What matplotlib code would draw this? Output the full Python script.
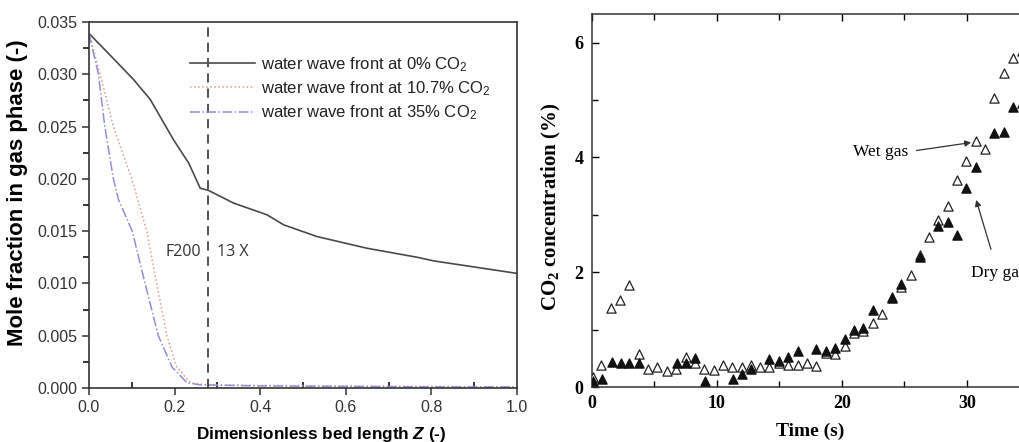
import numpy as np
import matplotlib
matplotlib.use("Agg")
import matplotlib.pyplot as plt
from matplotlib.ticker import MultipleLocator

plt.rcParams["mathtext.fontset"] = "custom"
plt.rcParams["mathtext.rm"] = "Liberation Sans:bold"
plt.rcParams["mathtext.bf"] = "Liberation Sans:bold"
plt.rcParams["mathtext.it"] = "Liberation Sans:italic:bold"

# ---- left panel: mole fraction along the bed ----
z_0 = [0.0, 0.05, 0.104, 0.143, 0.198, 0.233, 0.26, 0.279, 0.338, 0.416,
       0.455, 0.533, 0.65, 0.767, 0.806, 1.0]
y_0 = [0.0339, 0.0318, 0.0295, 0.0276, 0.0237, 0.0215, 0.0191, 0.0189, 0.01768,
       0.01656, 0.0156, 0.01448, 0.01336, 0.0125, 0.01215, 0.01096]

z_107 = [0.0, 0.026, 0.057, 0.1, 0.135, 0.158, 0.182, 0.205, 0.237, 0.276,
         0.4, 0.6, 0.8, 1.0]
y_107 = [0.0339, 0.030, 0.025, 0.020, 0.015, 0.010, 0.005, 0.002, 0.0005,
         0.0003, 0.00025, 0.0002, 0.00015, 0.0001]

z_35 = [0.0, 0.022, 0.037, 0.057, 0.069, 0.101, 0.131, 0.162, 0.194, 0.229,
        0.26, 0.4, 0.6, 0.8, 1.0]
y_35 = [0.0339, 0.030, 0.025, 0.020, 0.018, 0.015, 0.010, 0.005, 0.002, 0.0005,
        0.0003, 0.0002, 0.00015, 0.0001, 0.0001]

legend_labels = ["water wave front at 0% CO$\\mathregular{_2}$",
                 "water wave front at 10.7% CO$\\mathregular{_2}$",
                 "water wave front at 35% CO$\\mathregular{_2}$"]
z_boundary = 0.279

# ---- right panel: CO2 concentration vs time ----
t_wet = [0.08, 0.75, 1.49, 2.27, 3.0, 3.76, 4.48, 5.2, 6.0, 6.75, 7.5, 8.24,
         8.96, 9.73, 10.48, 11.23, 11.97, 12.72, 13.47, 14.2, 14.96, 15.7,
         16.48, 17.23, 17.97, 18.72, 19.47, 20.25, 21.0, 21.73, 22.48, 23.25,
         24.0, 24.77, 25.5, 26.23, 26.98, 27.72, 28.47, 29.2, 29.96, 30.7,
         31.48, 32.2, 32.94, 33.69, 34.4]
c_wet = [0.17, 0.39, 1.38, 1.51, 1.77, 0.57, 0.31, 0.34, 0.28, 0.32, 0.53, 0.42,
         0.31, 0.29, 0.38, 0.35, 0.34, 0.38, 0.35, 0.34, 0.41, 0.39,
         0.38, 0.42, 0.36, 0.59, 0.57, 0.71, 0.94, 0.97, 1.11, 1.28,
         1.57, 1.75, 1.96, 2.30, 2.61, 2.91, 3.16, 3.60, 3.94, 4.28,
         4.14, 5.03, 5.47, 5.74, 5.85]

t_dry = [0.1, 0.8, 1.57, 2.3, 3.0, 3.77, 6.77, 7.5, 8.25, 9.04, 11.3, 12.0,
         12.72, 14.2, 14.96, 15.7, 16.48, 17.97, 18.72, 19.47, 20.25, 21.0,
         21.73, 22.48, 24.0, 24.77, 26.23, 27.72, 28.47, 29.2, 29.96, 30.7,
         32.2, 32.94, 33.69, 34.4]
c_dry = [0.1, 0.14, 0.44, 0.42, 0.42, 0.42, 0.42, 0.41, 0.51, 0.11, 0.14, 0.22,
         0.31, 0.49, 0.46, 0.52, 0.62, 0.67, 0.62, 0.68, 0.84, 1.0,
         1.03, 1.34, 1.55, 1.79, 2.26, 2.81, 2.87, 2.65, 3.46, 3.83,
         4.42, 4.45, 4.88, 4.95]

W, H = 1020, 442
fig = plt.figure(figsize=(W / 100, H / 100), dpi=100)
fig.patch.set_facecolor("white")

# left axes
sans = ["Liberation Sans", "DejaVu Sans"]
ax1 = fig.add_axes([89 / W, 54 / H, 428 / W, 366 / H])
ax1.plot(z_0, y_0, color="#4a4a4a", lw=1.2, label=legend_labels[0])
ax1.plot(z_107, y_107, color="#e89a8a", lw=1.1, ls=":", label=legend_labels[1])
ax1.plot(z_35, y_35, color="#8f8fd6", lw=1.1, ls="-.", label=legend_labels[2])
ax1.axvline(z_boundary, color="#222222", lw=1.1, ls=(0, (6, 4)))
ax1.set_xlim(0, 1.0)
ax1.set_ylim(0, 0.035)
ax1.xaxis.set_major_locator(MultipleLocator(0.2))
ax1.xaxis.set_minor_locator(MultipleLocator(0.1))
ax1.yaxis.set_major_locator(MultipleLocator(0.005))
ax1.yaxis.set_minor_locator(MultipleLocator(0.0025))
ax1.set_yticklabels([f"{v:.3f}" for v in ax1.get_yticks()])
ax1.set_xticklabels([f"{v:.1f}" for v in ax1.get_xticks()])
ax1.tick_params(axis="both", which="major", direction="out", length=5, width=1.1,
                labelsize=11.5, colors="#333333")
ax1.tick_params(axis="x", which="minor", direction="in", length=4, width=1.1)
ax1.tick_params(axis="y", which="minor", direction="out", length=4, width=1.1)
for lab in ax1.get_xticklabels() + ax1.get_yticklabels():
    lab.set_family(sans)
for sp in ax1.spines.values():
    sp.set_linewidth(1.2)
    sp.set_color("#333333")
ax1.set_ylabel("Mole fraction in gas phase (-)", fontsize=16, fontweight="bold",
               family=sans)
ax1.yaxis.set_label_coords(-0.142, 0.533)
ax1.set_xlabel("Dimensionless bed length $Z$ (-)", fontsize=12.3,
               fontweight="bold", family=sans)
ax1.xaxis.set_label_coords(0.542, -0.1)
ax1.text(0.178, 0.0130, "F200", fontsize=11.5, family=["Open Sans", "DejaVu Sans"],
         color="#333333", va="center")
ax1.text(0.298, 0.0130, "13 X", fontsize=11.5, family=["Open Sans", "DejaVu Sans"],
         color="#333333", va="center")
leg = ax1.legend(loc="upper left", bbox_to_anchor=(0.236, 0.91), frameon=False,
                 borderaxespad=0, borderpad=0, handlelength=3.9, handletextpad=0.35,
                 labelspacing=0.33, prop={"family": sans, "size": 12})
for t in leg.get_texts():
    t.set_color("#222222")

# right axes (cut off by the figure edge)
serif = ["Liberation Serif", "DejaVu Serif"]
ax2 = fig.add_axes([592 / W, 55 / H, 436 / W, 373 / H])
ax2.scatter(t_wet, c_wet, marker="^", s=44, facecolors="white",
            edgecolors="#222222", linewidths=0.9, zorder=3)
ax2.scatter(t_dry, c_dry, marker="^", s=44, facecolors="#111111",
            edgecolors="#111111", linewidths=0.9, zorder=4)
ax2.set_xlim(0, 34.9)
ax2.set_ylim(0, 6.5)
ax2.xaxis.set_major_locator(MultipleLocator(10))
ax2.xaxis.set_minor_locator(MultipleLocator(5))
ax2.yaxis.set_major_locator(MultipleLocator(2))
ax2.yaxis.set_minor_locator(MultipleLocator(1))
ax2.tick_params(axis="both", which="both", direction="in", top=True,
                labelsize=13, width=1.0)
ax2.tick_params(which="major", length=5, pad=6)
ax2.tick_params(which="minor", length=4)
for lab in ax2.get_xticklabels() + ax2.get_yticklabels():
    lab.set_family(serif)
    lab.set_fontweight("bold")
for sp in ax2.spines.values():
    sp.set_linewidth(1.1)
    sp.set_color("#333333")
ax2.spines["right"].set_visible(False)
ax2.set_xlabel("Time (s)", fontsize=14, fontweight="bold", family=serif)
ax2.xaxis.set_label_coords(0.5, -0.097)
ax2.set_ylabel("CO$\\mathregular{_2}$ concentration (%)", fontsize=15,
               fontweight="bold", family=serif)
ax2.yaxis.set_label_coords(-0.066, 0.483)
ax2.annotate("Wet gas", xy=(30.35, 4.26), xytext=(23.1, 4.1), fontsize=12.5,
             family=serif, ha="center", va="center",
             arrowprops=dict(arrowstyle="-|>", color="#333333", lw=0.9,
                             shrinkA=4, shrinkB=0, mutation_scale=9,
                             relpos=(1.0, 0.5)))
ax2.annotate("Dry gas", xy=(30.75, 3.26), xytext=(30.35, 1.98), fontsize=12.5,
             family=serif, ha="left", va="center",
             arrowprops=dict(arrowstyle="-|>", color="#333333", lw=0.9,
                             shrinkA=10, shrinkB=0, mutation_scale=9,
                             relpos=(0.45, 1.0)))

fig.savefig("out.png", dpi=100)
